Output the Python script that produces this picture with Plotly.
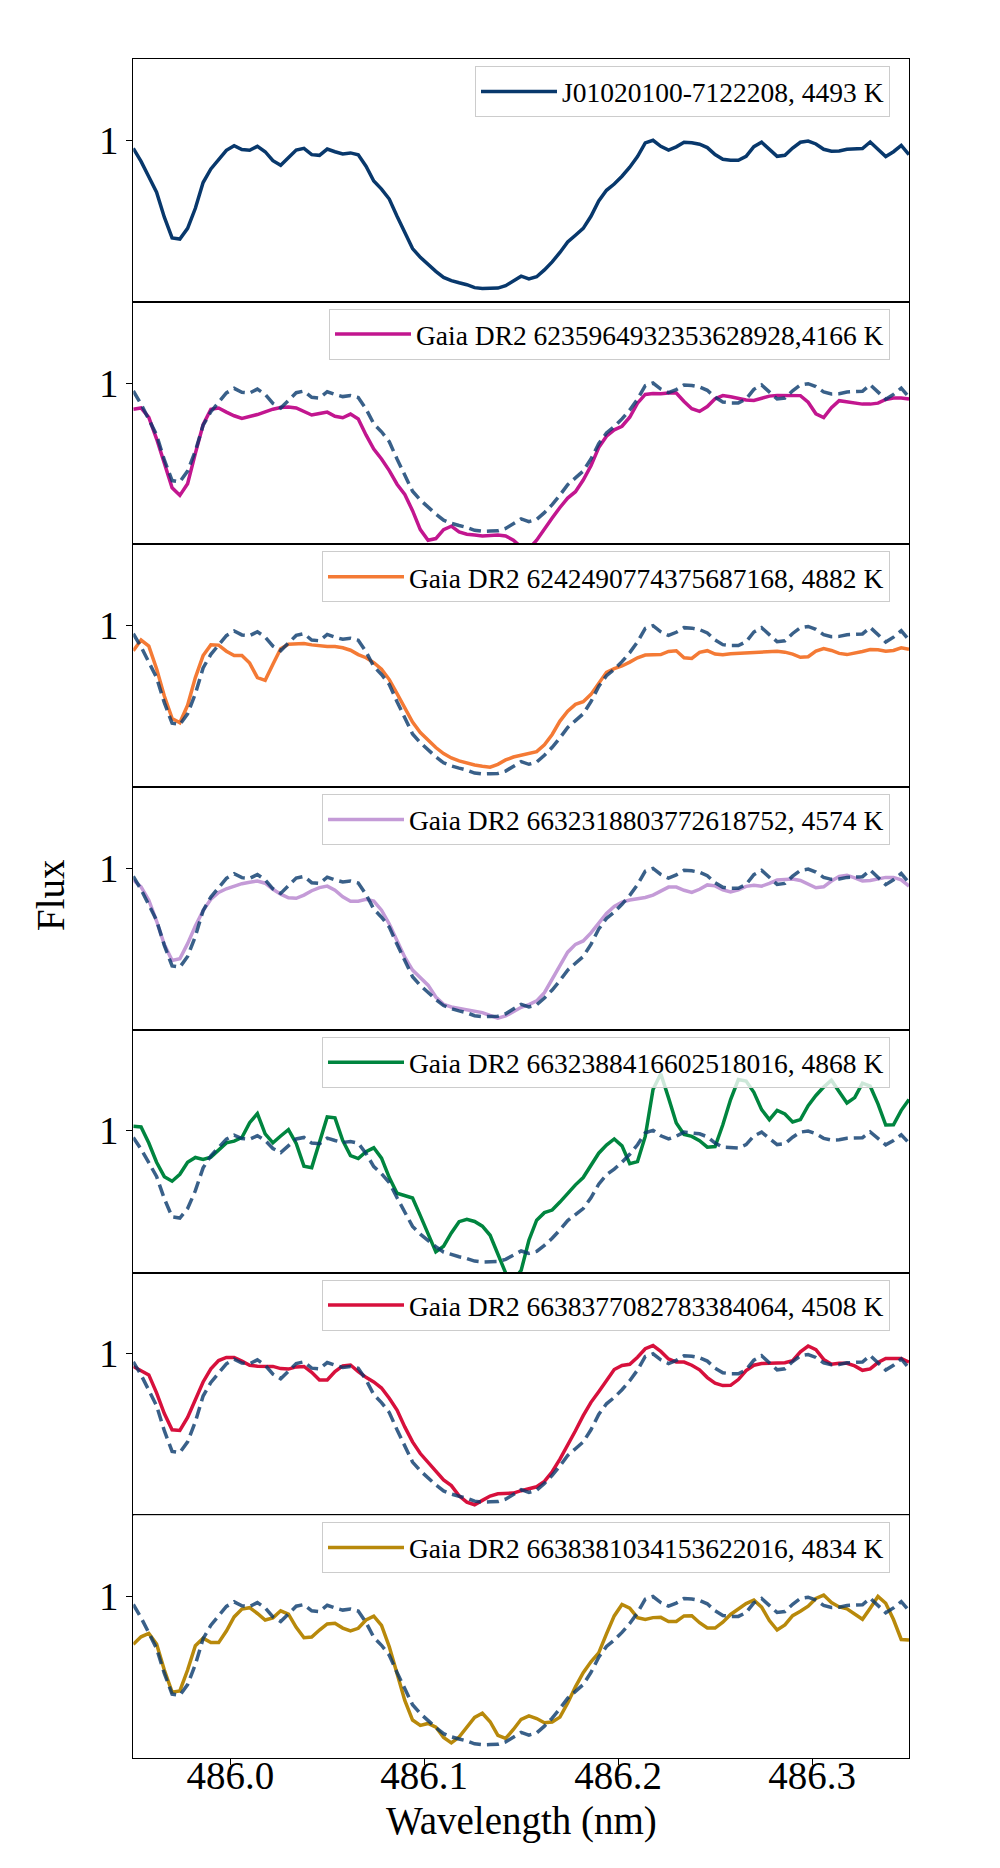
import plotly.graph_objects as go
from plotly.subplots import make_subplots

# sampled wavelength grid (nm)
wavelength = [
    485.950, 485.954, 485.958, 485.962, 485.966, 485.970, 485.974, 485.978, 485.982, 485.986,
    485.990, 485.994, 485.998, 486.002, 486.006, 486.010, 486.014, 486.018, 486.022, 486.026,
    486.030, 486.034, 486.038, 486.042, 486.046, 486.050, 486.054, 486.058, 486.062, 486.066,
    486.070, 486.074, 486.078, 486.082, 486.086, 486.090, 486.094, 486.098, 486.102, 486.106,
    486.110, 486.114, 486.118, 486.122, 486.126, 486.130, 486.134, 486.138, 486.142, 486.146,
    486.150, 486.154, 486.158, 486.162, 486.166, 486.170, 486.174, 486.178, 486.182, 486.186,
    486.190, 486.194, 486.198, 486.202, 486.206, 486.210, 486.214, 486.218, 486.222, 486.226,
    486.230, 486.234, 486.238, 486.242, 486.246, 486.250, 486.254, 486.258, 486.262, 486.266,
    486.270, 486.274, 486.278, 486.282, 486.286, 486.290, 486.294, 486.298, 486.302, 486.306,
    486.310, 486.314, 486.318, 486.322, 486.326, 486.330, 486.334, 486.338, 486.342, 486.346,
    486.350,
]

# reference star, also drawn dashed under every other panel
flux_ref = [
    0.967, 0.913, 0.850, 0.786, 0.683, 0.598, 0.593, 0.637, 0.720, 0.826,
    0.882, 0.922, 0.959, 0.978, 0.962, 0.959, 0.975, 0.953, 0.916, 0.897,
    0.927, 0.960, 0.967, 0.941, 0.938, 0.964, 0.953, 0.944, 0.948, 0.940,
    0.893, 0.832, 0.799, 0.758, 0.687, 0.620, 0.554, 0.518, 0.488, 0.460,
    0.435, 0.422, 0.413, 0.405, 0.393, 0.389, 0.390, 0.391, 0.401, 0.422,
    0.440, 0.429, 0.438, 0.466, 0.499, 0.538, 0.581, 0.609, 0.637, 0.687,
    0.750, 0.794, 0.820, 0.852, 0.889, 0.933, 0.989, 1.000, 0.975, 0.960,
    0.973, 0.992, 0.990, 0.984, 0.970, 0.941, 0.922, 0.918, 0.918, 0.934,
    0.974, 0.992, 0.964, 0.934, 0.938, 0.968, 0.992, 0.997, 0.985, 0.963,
    0.955, 0.956, 0.963, 0.964, 0.966, 0.993, 0.962, 0.933, 0.953, 0.979, 0.941,
]

flux_6235 = [
    0.892, 0.897, 0.858, 0.770, 0.670, 0.568, 0.537, 0.585, 0.710, 0.828,
    0.892, 0.897, 0.880, 0.865, 0.854, 0.861, 0.870, 0.881, 0.892, 0.899,
    0.901, 0.897, 0.881, 0.868, 0.874, 0.880, 0.863, 0.857, 0.872, 0.852,
    0.786, 0.728, 0.687, 0.639, 0.583, 0.541, 0.474, 0.396, 0.352, 0.359,
    0.396, 0.410, 0.386, 0.377, 0.374, 0.370, 0.372, 0.374, 0.370, 0.352,
    0.324, 0.317, 0.352, 0.400, 0.444, 0.487, 0.526, 0.552, 0.600, 0.659,
    0.734, 0.781, 0.807, 0.822, 0.859, 0.917, 0.953, 0.957, 0.956, 0.959,
    0.959, 0.924, 0.894, 0.883, 0.903, 0.935, 0.948, 0.943, 0.937, 0.930,
    0.928, 0.938, 0.946, 0.949, 0.949, 0.949, 0.948, 0.921, 0.873, 0.858,
    0.898, 0.927, 0.923, 0.916, 0.913, 0.913, 0.917, 0.932, 0.938, 0.938, 0.934,
]

flux_6242 = [
    0.897, 0.941, 0.916, 0.823, 0.710, 0.618, 0.600, 0.672, 0.786, 0.877,
    0.921, 0.920, 0.895, 0.877, 0.877, 0.846, 0.786, 0.775, 0.841, 0.905,
    0.924, 0.927, 0.927, 0.921, 0.916, 0.914, 0.914, 0.909, 0.899, 0.881,
    0.868, 0.848, 0.821, 0.778, 0.720, 0.658, 0.603, 0.560, 0.527, 0.498,
    0.473, 0.455, 0.443, 0.434, 0.426, 0.421, 0.417, 0.429, 0.447, 0.459,
    0.466, 0.473, 0.481, 0.509, 0.552, 0.607, 0.648, 0.676, 0.687, 0.717,
    0.761, 0.808, 0.823, 0.834, 0.850, 0.868, 0.879, 0.879, 0.881, 0.894,
    0.897, 0.868, 0.865, 0.890, 0.897, 0.883, 0.880, 0.884, 0.886, 0.888,
    0.891, 0.894, 0.894, 0.895, 0.891, 0.883, 0.870, 0.872, 0.895, 0.906,
    0.898, 0.886, 0.881, 0.886, 0.894, 0.902, 0.901, 0.895, 0.898, 0.909, 0.903,
]

flux_66323188 = [
    0.952, 0.924, 0.869, 0.783, 0.686, 0.621, 0.628, 0.690, 0.763, 0.826,
    0.873, 0.901, 0.916, 0.926, 0.937, 0.943, 0.948, 0.939, 0.914, 0.894,
    0.879, 0.877, 0.890, 0.908, 0.921, 0.927, 0.910, 0.883, 0.865, 0.865,
    0.873, 0.865, 0.828, 0.771, 0.703, 0.634, 0.581, 0.550, 0.519, 0.470,
    0.440, 0.429, 0.423, 0.418, 0.412, 0.406, 0.394, 0.383, 0.392, 0.412,
    0.428, 0.439, 0.454, 0.488, 0.545, 0.604, 0.655, 0.687, 0.701, 0.734,
    0.775, 0.814, 0.843, 0.861, 0.870, 0.876, 0.880, 0.890, 0.906, 0.923,
    0.923, 0.910, 0.901, 0.914, 0.932, 0.928, 0.912, 0.903, 0.912, 0.926,
    0.931, 0.927, 0.938, 0.952, 0.954, 0.956, 0.950, 0.934, 0.920, 0.924,
    0.948, 0.967, 0.972, 0.961, 0.948, 0.950, 0.957, 0.963, 0.963, 0.953, 0.927,
]

flux_66323884 = [
    1.019, 1.016, 0.941, 0.852, 0.785, 0.764, 0.796, 0.852, 0.874, 0.865,
    0.876, 0.907, 0.942, 0.950, 0.967, 1.036, 1.078, 0.984, 0.942, 0.974,
    1.003, 0.939, 0.834, 0.827, 0.949, 1.062, 1.058, 0.953, 0.883, 0.869,
    0.901, 0.919, 0.871, 0.781, 0.708, 0.695, 0.686, 0.604, 0.517, 0.436,
    0.462, 0.524, 0.576, 0.587, 0.577, 0.555, 0.513, 0.428, 0.338, 0.304,
    0.350, 0.490, 0.583, 0.618, 0.630, 0.667, 0.708, 0.747, 0.781, 0.840,
    0.894, 0.932, 0.960, 0.928, 0.845, 0.855, 0.972, 1.190, 1.263, 1.151,
    1.034, 0.981, 0.972, 0.952, 0.922, 0.925, 1.026, 1.143, 1.236, 1.229,
    1.177, 1.096, 1.050, 1.093, 1.076, 1.039, 1.050, 1.115, 1.162, 1.201,
    1.233, 1.179, 1.127, 1.152, 1.219, 1.205, 1.123, 1.025, 1.026, 1.093, 1.143,
]

flux_66383770 = [
    0.948, 0.931, 0.913, 0.839, 0.754, 0.687, 0.684, 0.738, 0.814, 0.884,
    0.938, 0.972, 0.985, 0.985, 0.970, 0.953, 0.949, 0.950, 0.948, 0.939,
    0.937, 0.946, 0.948, 0.924, 0.892, 0.892, 0.927, 0.950, 0.954, 0.927,
    0.903, 0.884, 0.859, 0.817, 0.768, 0.699, 0.637, 0.589, 0.553, 0.512,
    0.480, 0.457, 0.415, 0.389, 0.378, 0.396, 0.414, 0.423, 0.425, 0.426,
    0.436, 0.443, 0.452, 0.474, 0.514, 0.566, 0.622, 0.683, 0.745, 0.800,
    0.844, 0.891, 0.935, 0.952, 0.957, 0.986, 1.021, 1.034, 1.010, 0.979,
    0.966, 0.966, 0.953, 0.934, 0.902, 0.879, 0.869, 0.870, 0.894, 0.931,
    0.953, 0.960, 0.961, 0.963, 0.963, 0.972, 1.008, 1.032, 1.017, 0.977,
    0.957, 0.961, 0.961, 0.950, 0.932, 0.938, 0.964, 0.981, 0.982, 0.981, 0.966,
]

flux_66383810 = [
    0.803, 0.834, 0.848, 0.804, 0.697, 0.606, 0.611, 0.697, 0.797, 0.828,
    0.810, 0.810, 0.858, 0.916, 0.948, 0.954, 0.930, 0.903, 0.912, 0.941,
    0.927, 0.873, 0.830, 0.833, 0.862, 0.887, 0.890, 0.870, 0.858, 0.869,
    0.903, 0.919, 0.881, 0.793, 0.683, 0.572, 0.491, 0.469, 0.477, 0.462,
    0.419, 0.397, 0.421, 0.463, 0.502, 0.519, 0.484, 0.428, 0.415, 0.452,
    0.494, 0.508, 0.497, 0.480, 0.483, 0.503, 0.561, 0.628, 0.686, 0.731,
    0.768, 0.846, 0.920, 0.967, 0.952, 0.913, 0.905, 0.913, 0.914, 0.897,
    0.897, 0.920, 0.921, 0.892, 0.870, 0.870, 0.894, 0.926, 0.949, 0.971,
    0.985, 0.956, 0.901, 0.862, 0.883, 0.921, 0.939, 0.960, 0.992, 1.006,
    0.975, 0.957, 0.949, 0.926, 0.906, 0.952, 1.000, 0.972, 0.905, 0.823, 0.821,
]

labels = [
    "J01020100-7122208, 4493 K",
    "Gaia DR2 6235964932353628928,4166 K",
    "Gaia DR2 6242490774375687168, 4882 K",
    "Gaia DR2 6632318803772618752, 4574 K",
    "Gaia DR2 6632388416602518016, 4868 K",
    "Gaia DR2 6638377082783384064, 4508 K",
    "Gaia DR2 6638381034153622016, 4834 K",
]
series = [flux_ref, flux_6235, flux_6242, flux_66323188,
          flux_66323884, flux_66383770, flux_66383810]
colors = ["#08386c", "#c2168f", "#f47a35", "#c49bd7",
          "#00853f", "#d7103c", "#b8890b"]
y_ranges = [[0.335, 1.335]] * 4 + [[0.34, 1.467]] + [[0.335, 1.335]] * 2

FONT = "Liberation Serif"
W, H = 1000, 1868
top_px, panel_px = 51, 242.7
left_px, right_px = 125.3, 901

n = len(series)
fig = make_subplots(rows=n, cols=1, shared_xaxes=True, vertical_spacing=0)

for i in range(n):
    row = i + 1
    leg = "legend" if i == 0 else f"legend{row}"
    fig.add_trace(go.Scatter(
        x=wavelength, y=series[i], mode="lines", name=labels[i],
        line=dict(color=colors[i], width=3.5), legend=leg,
    ), row=row, col=1)
    if i > 0:
        fig.add_trace(go.Scatter(
            x=wavelength, y=flux_ref, mode="lines", showlegend=False,
            line=dict(color="rgba(8,56,108,0.8)", width=3.5, dash="12px,6px"),
        ), row=row, col=1)

    p_top = top_px + i * panel_px
    p_bot = p_top + panel_px
    fig.update_yaxes(
        domain=[1 - p_bot / H, 1 - p_top / H], range=y_ranges[i],
        tickvals=[1], ticktext=["1"], ticks="outside", ticklen=6, tickwidth=1.1,
        tickcolor="black", showgrid=False, zeroline=False,
        showline=True, mirror=True, linecolor="black", linewidth=1.1,
        tickfont=dict(family=FONT, size=39, color="black"),
        row=row, col=1,
    )
    last = (i == n - 1)
    fig.update_xaxes(
        domain=[left_px / W, right_px / W], range=[485.95, 486.35],
        tickvals=[486.0, 486.1, 486.2, 486.3] if last else [],
        tickformat=".1f", ticks="outside" if last else "", ticklen=6,
        tickwidth=1.1, tickcolor="black", showticklabels=last,
        ticklabelstandoff=-23 if last else 0,
        showgrid=False, zeroline=False,
        showline=True, mirror=True, linecolor="black", linewidth=1.1,
        tickfont=dict(family=FONT, size=39, color="black"),
        row=row, col=1,
    )

    fig.update_layout({leg: dict(
        x=882 / W, xanchor="right", y=1 - (p_top + 7) / H, yanchor="top",
        bgcolor="rgba(255,255,255,0.8)", bordercolor="#cccccc", borderwidth=1,
        font=dict(family=FONT, size=27.5, color="black"), itemwidth=76,
    )})

fig.add_annotation(text="Wavelength (nm)", x=(left_px + right_px) / 2 / W,
                   y=1 - 1813 / H, xref="paper", yref="paper", showarrow=False,
                   xanchor="center", yanchor="middle",
                   font=dict(family=FONT, size=39, color="black"))
fig.add_annotation(text="Flux", x=43 / W, y=1 - 887 / H, xref="paper",
                   yref="paper", showarrow=False, textangle=-90,
                   xanchor="center", yanchor="middle",
                   font=dict(family=FONT, size=39, color="black"))

fig.update_layout(
    width=W, height=H, margin=dict(l=0, r=0, t=0, b=0),
    paper_bgcolor="white", plot_bgcolor="white", showlegend=True,
)

fig.write_html("out.html")
